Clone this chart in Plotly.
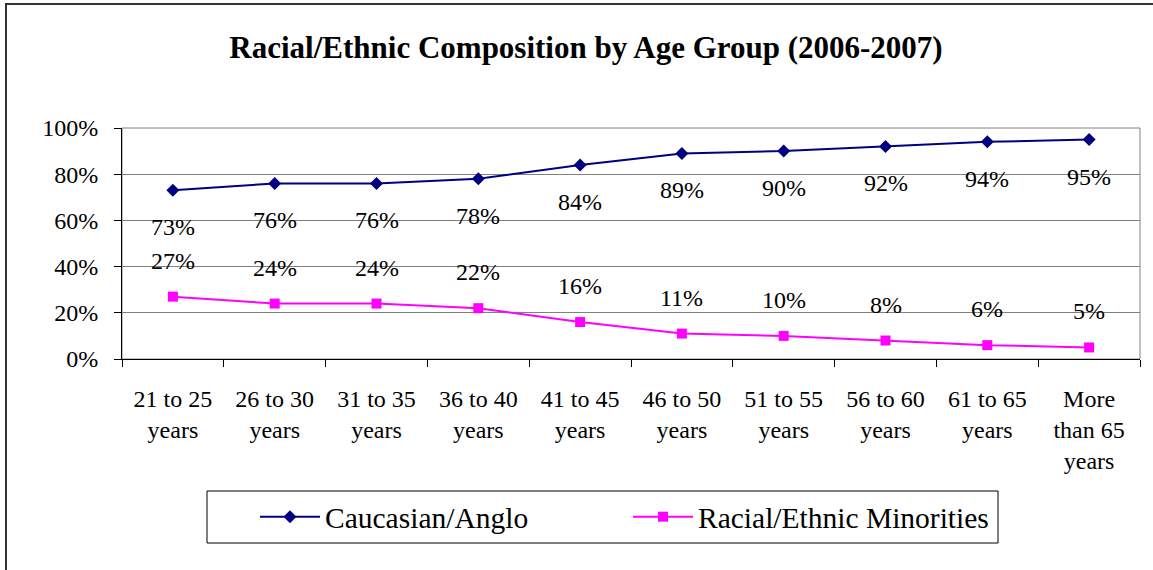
import plotly.graph_objects as go

categories = ["21 to 25<br>years", "26 to 30<br>years", "31 to 35<br>years", "36 to 40<br>years",
              "41 to 45<br>years", "46 to 50<br>years", "51 to 55<br>years", "56 to 60<br>years",
              "61 to 65<br>years", "More<br>than 65<br>years"]
caucasian = [73, 76, 76, 78, 84, 89, 90, 92, 94, 95]
minorities = [27, 24, 24, 22, 16, 11, 10, 8, 6, 5]
y_ticks = [0, 20, 40, 60, 80, 100]
y_tick_labels = ["0%", "20%", "40%", "60%", "80%", "100%"]

FONT = "Liberation Serif, Times New Roman, serif"
W, H = 1153, 570
L, R, T, B = 122, 13, 128, 211
PW, PH = W - L - R, H - T - B

def px_x(p):
    return (p - L) / PW

def px_y(p):
    return (H - B - p) / PH

fig = go.Figure()
fig.add_trace(go.Scatter(
    x=categories, y=caucasian, mode="lines+markers", name="Caucasian/Anglo",
    line=dict(color="#000080", width=2),
    marker=dict(symbol="diamond", size=10, color="#000080"),
))
fig.add_trace(go.Scatter(
    x=categories, y=minorities, mode="lines+markers", name="Racial/Ethnic Minorities",
    line=dict(color="#FF00FF", width=2),
    marker=dict(symbol="square", size=10, color="#FF00FF"),
))

annotations = []
for c, v in zip(categories, caucasian):
    annotations.append(dict(x=c, y=v, xref="x", yref="y", text=f"{v}%", showarrow=False,
                            yshift=-37, font=dict(family=FONT, size=24, color="black")))
for c, v in zip(categories, minorities):
    annotations.append(dict(x=c, y=v, xref="x", yref="y", text=f"{v}%", showarrow=False,
                            yshift=36, font=dict(family=FONT, size=24, color="black")))

shapes = [
    # plot area border (gray)
    dict(type="rect", xref="x domain", yref="y domain", x0=0, x1=1, y0=0, y1=1,
         line=dict(color="#808080", width=1), layer="below"),
    # legend box
    dict(type="rect", xref="paper", yref="paper", x0=px_x(207), x1=px_x(998),
         y0=px_y(543), y1=px_y(491), line=dict(color="black", width=1), fillcolor="white",
         layer="below"),
    # outer chart frame (top and left visible)
    dict(type="rect", xref="paper", yref="paper", x0=px_x(6), x1=px_x(1200),
         y0=px_y(620), y1=px_y(4), line=dict(color="#333333", width=2)),
]

fig.update_layout(
    width=W, height=H,
    margin=dict(l=L, r=R, t=T, b=B),
    paper_bgcolor="white", plot_bgcolor="white",
    font=dict(family=FONT, size=24, color="black"),
    title=dict(text="<b>Racial/Ethnic Composition by Age Group (2006-2007)</b>",
               x=586 / W, xanchor="center", y=1 - 47 / H, yanchor="middle",
               font=dict(family=FONT, size=31, color="black")),
    showlegend=True,
    legend=dict(orientation="h", x=px_x(255), xanchor="left", y=px_y(517), yanchor="middle",
                font=dict(family=FONT, size=29.5, color="black"),
                bgcolor="rgba(0,0,0,0)", borderwidth=0,
                entrywidth=298, entrywidthmode="pixels", itemwidth=60),
    annotations=annotations,
    shapes=shapes,
)
fig.update_xaxes(
    type="category", showline=True, linecolor="black", linewidth=1,
    ticks="outside", tickson="boundaries", ticklen=7, tickcolor="black",
    showgrid=False, tickfont=dict(family=FONT, size=24, color="black"),
    ticklabelstandoff=18, range=[-0.5, 9.5],
)
fig.update_yaxes(
    range=[0, 100], tickvals=y_ticks, ticktext=y_tick_labels,
    showline=True, linecolor="black", linewidth=1,
    ticks="outside", ticklen=7, tickcolor="black",
    showgrid=True, gridcolor="#808080", gridwidth=1, zeroline=False,
    tickfont=dict(family=FONT, size=24, color="black"), ticklabelstandoff=11,
)
fig.write_html("out.html")
